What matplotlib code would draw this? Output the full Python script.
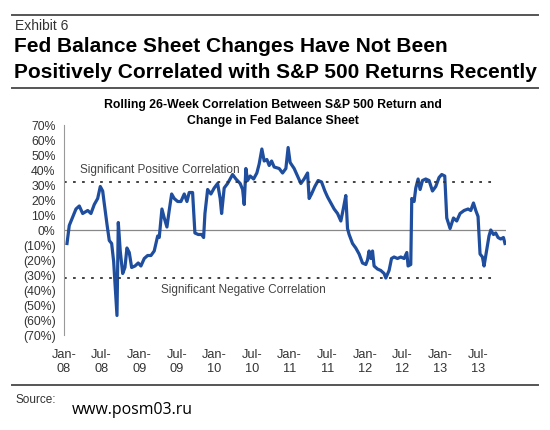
import matplotlib.pyplot as plt
import numpy as np

# months since Jan-08 / rolling correlation (%)
months = [0.48, 0.84, 1.91, 2.44, 2.98, 3.78, 4.30, 4.83, 5.37, 5.79, 6.17, 6.38,
          6.85, 7.22, 7.60, 7.92, 8.18, 8.45, 8.66, 8.97, 9.36, 9.72, 10.04, 10.41,
          10.79, 11.32, 11.84, 12.27, 12.80, 13.34, 13.87, 14.39, 14.94, 15.19, 15.62,
          15.99, 16.42, 16.78, 17.17, 17.58, 18.13, 18.65, 19.18, 19.61, 19.97, 20.51,
          20.88, 21.41, 21.95, 22.27, 22.48, 22.91, 23.43, 23.96, 24.50, 24.91, 25.14,
          25.55, 26.09, 26.89, 27.42, 28.10, 28.49, 28.74, 29.01, 29.28, 29.70, 30.24,
          30.76, 31.13, 31.56, 31.93, 32.36, 32.73, 33.11, 33.52, 34.32, 34.86, 35.39,
          35.75, 36.07, 36.71, 37.25, 37.78, 38.30, 38.85, 39.10, 39.48, 40.01, 40.54,
          41.08, 41.61, 42.04, 42.56, 43.09, 43.63, 44.16, 44.59, 44.95, 45.22, 45.48,
          46.02, 46.54, 47.07, 47.61, 48.14, 48.41, 48.66, 48.94, 49.21, 49.46, 50.00,
          50.53, 51.06, 51.33, 51.85, 52.24, 52.65, 53.19, 53.72, 54.25, 54.68, 54.88,
          55.31, 55.47, 55.84, 56.11, 56.48, 56.80, 57.18, 57.70, 58.23, 58.77, 59.30,
          59.82, 60.25, 60.73, 61.05, 61.58, 62.12, 62.64, 63.17, 63.81, 64.45, 64.88,
          65.31, 65.68, 66.04, 66.36, 66.74, 67.00, 67.43, 67.79, 68.07, 68.50, 68.86,
          69.23, 69.66, 70.09, 70.34]
corr = [-9, 3, 14, 16, 11, 13, 11, 17, 21, 29, 26, 19,
        4, -7, -9, -21, -39, -57, 5, -14, -29, -25, -12, -15,
        -25, -24, -22, -24, -19, -17, -17, -14, -4, -5, 14,
        8, 2, 13, 24, 21, 19, 19, 24, 19, 25, 25,
        -2, -3, -3, -5, 11, 27, 24, 28, 31, 21, 11,
        28, 31, 37, 34, 31, 27, 17, 41, 33, 36, 34,
        38, 44, 54, 46, 47, 43, 46, 42, 41, 38, 41,
        55, 45, 41, 36, 31, 34, 38, 21, 24, 29, 33,
        32, 26, 22, 18, 14, 11, 6, 15, 23, 1, -3,
        -9, -12, -16, -22, -23, -20, -14, -19, -14, -24, -26,
        -27, -29, -32, -27, -19, -18, -19, -18, -19, -15, -24,
        -23, 21, 19, 28, 34, 27, 33, 34, 33, 26, 29,
        35, 37, 36, 8, 1, 8, 6, 11, 13, 14, 13,
        18, 13, 9, -16, -18, -24, -13, -4, 0, -3, -2,
        -5, -6, -5, -9]

tick_months = [0, 6, 12, 18, 24, 30, 36, 42, 48, 54, 60, 66]
tick_labels = ["Jan-\n08", "Jul-\n08", "Jan-\n09", "Jul-\n09", "Jan-\n10", "Jul-\n10",
               "Jan-\n11", "Jul-\n11", "Jan-\n12", "Jul-\n12", "Jan-\n13", "Jul-\n13"]
y_ticks = [70, 60, 50, 40, 30, 20, 10, 0, -10, -20, -30, -40, -50, -60, -70]
sig_level = 32

plt.rcParams["font.family"] = ["Liberation Sans", "DejaVu Sans"]
W, H = 550, 430
fig = plt.figure(figsize=(W / 100, H / 100), dpi=100)

# header / footer rules
for yy in (15, 88, 385):
    fig.add_artist(plt.Line2D([12 / W, 538 / W], [1 - yy / H] * 2,
                              color="#555555", lw=1.4))
fig.text(15 / W, 1 - 26 / H, "Exhibit 6", fontsize=10, color="#333333", va="center")
fig.text(14 / W, 1 - 47 / H, "Fed Balance Sheet Changes Have Not Been",
         fontsize=15, fontweight="bold", va="center")
fig.text(14 / W, 1 - 73 / H, "Positively Correlated with S&P 500 Returns Recently",
         fontsize=15, fontweight="bold", va="center")
fig.text(273 / W, 1 - 105 / H, "Rolling 26-Week Correlation Between S&P 500 Return and",
         fontsize=8.8, fontweight="bold", ha="center", va="center")
fig.text(273 / W, 1 - 121 / H, "Change in Fed Balance Sheet",
         fontsize=8.8, fontweight="bold", ha="center", va="center")
fig.text(15 / W, 1 - 400 / H, "Source:", fontsize=8.5, color="#333333", va="center")
fig.text(72 / W, 1 - 410 / H, "www.posm03.ru", fontsize=11.4, va="center",
         family=["Open Sans", "DejaVu Sans"])

ax = fig.add_axes([64 / W, 1 - 335 / H, 442 / W, 210 / H])
ax.plot(months, corr, color="#1f4e9e", lw=2.3, solid_joinstyle="round")
ax.axhline(0, color="#888888", lw=0.9, zorder=0)
ax.hlines([sig_level, -sig_level], 0, 68.4, colors="#333333", linestyles=(0, (1.5, 3.5)),
          lw=1.3)
ax.text(2.5, 40, "Significant Positive Correlation", fontsize=8.5, color="#444444",
        va="center")
ax.text(15.5, -40, "Significant Negative Correlation", fontsize=8.5, color="#444444",
        va="center")

ax.set_xlim(0, 70.5)
ax.set_ylim(-70, 70)
ax.set_yticks(y_ticks)
ax.set_yticklabels([f"{v}%" if v >= 0 else f"({-v}%)" for v in y_ticks])
ax.set_xticks(tick_months)
ax.set_xticklabels(tick_labels)
ax.tick_params(axis="y", length=0, pad=6, labelsize=8.8, labelcolor="#333333")
ax.tick_params(axis="x", length=0, pad=10, labelsize=9.2, labelcolor="#333333")
for s in ("top", "right", "bottom"):
    ax.spines[s].set_visible(False)
ax.spines["left"].set_color("#999999")

fig.savefig("out.png", dpi=100)
